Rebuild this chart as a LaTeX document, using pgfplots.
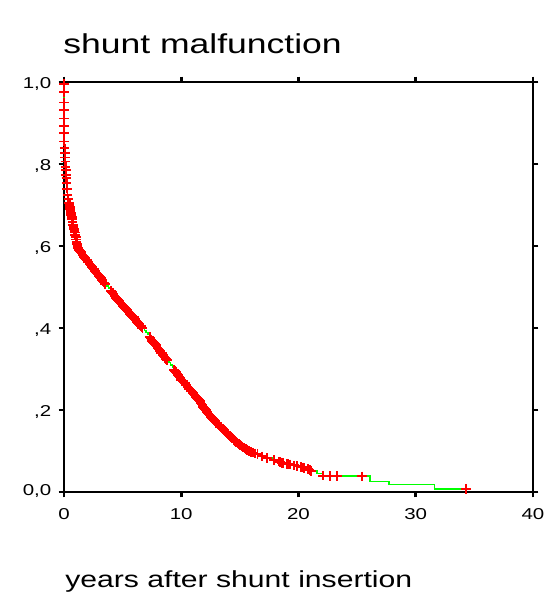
\documentclass[border=0pt]{standalone}
\usepackage{pgfplots}
\pgfplotsset{compat=1.18}
\usepackage{pgfplotstable}
\usepackage{fontspec}
\setmainfont{Liberation Sans}[FakeStretch=1.3]
\definecolor{kmred}{RGB}{255,0,0}
\definecolor{kmgreen}{RGB}{0,255,0}
\pgfplotstableread{
x y
0 0.995
0 0.976
0 0.950
0 0.932
0 0.911
0 0.893
0 0.875
0.02 0.855
0.05 0.838
0.08 0.826
0.10 0.816
0.12 0.806
0.14 0.793
0.16 0.785
0.18 0.773
0.20 0.765
0.22 0.753
0.26 0.740
0.30 0.724
0.45 0.705
0.50 0.695
0.55 0.685
0.62 0.675
0.70 0.665
0.78 0.652
0.85 0.642
0.92 0.633
1.00 0.622
1.08 0.610
1.15 0.600
1.25 0.593
1.35 0.588
1.50 0.582
1.65 0.576
1.80 0.570
1.95 0.565
2.10 0.560
2.25 0.554
2.40 0.548
2.55 0.543
2.70 0.537
2.85 0.532
3.00 0.527
3.15 0.521
3.30 0.515
3.50 0.508
4.00 0.490
4.15 0.485
4.30 0.479
4.45 0.474
4.60 0.468
4.75 0.463
4.90 0.458
5.05 0.453
5.20 0.448
5.35 0.444
5.50 0.439
5.65 0.434
5.80 0.430
5.95 0.426
6.10 0.420
6.25 0.415
6.40 0.409
6.55 0.404
6.70 0.399
7.30 0.378
7.45 0.372
7.60 0.366
7.75 0.361
7.90 0.355
8.05 0.349
8.20 0.343
8.35 0.338
8.50 0.332
8.65 0.327
8.80 0.322
9.40 0.298
9.55 0.292
9.70 0.286
9.85 0.280
10.00 0.274
10.15 0.270
10.30 0.265
10.45 0.260
10.60 0.255
10.75 0.250
10.90 0.245
11.05 0.240
11.20 0.234
11.35 0.229
11.50 0.224
11.65 0.218
11.80 0.212
11.95 0.205
12.10 0.199
12.25 0.193
12.40 0.188
12.55 0.183
12.70 0.178
12.85 0.173
13.00 0.168
13.20 0.163
13.40 0.158
13.60 0.152
13.80 0.147
14.00 0.141
14.20 0.135
14.40 0.130
14.60 0.125
14.80 0.120
15.00 0.115
15.20 0.111
15.40 0.107
15.60 0.103
15.80 0.100
16.10 0.096
16.50 0.092
16.90 0.087
17.30 0.083
17.90 0.078
18.30 0.074
18.50 0.072
18.70 0.071
19.00 0.069
19.30 0.067
19.60 0.065
19.90 0.063
20.20 0.061
20.50 0.059
20.80 0.056
21.10 0.051
22.10 0.040
22.70 0.039
23.30 0.039
25.40 0.038
34.30 0.008
}\censored
\pgfplotstableread{
x y
0.375 0.715
0.475 0.700
0.525 0.690
0.585 0.680
0.660 0.670
0.740 0.658
0.815 0.647
0.885 0.637
0.960 0.627
1.040 0.616
1.115 0.605
1.200 0.596
1.300 0.590
1.430 0.585
1.580 0.579
1.730 0.573
1.880 0.567
2.030 0.562
2.180 0.557
2.330 0.551
2.480 0.545
2.630 0.540
2.780 0.534
2.930 0.529
3.080 0.524
3.230 0.518
3.400 0.511
4.080 0.487
4.230 0.482
4.380 0.476
4.530 0.471
4.680 0.465
4.830 0.460
4.980 0.455
5.130 0.450
5.280 0.446
5.430 0.441
5.580 0.436
5.730 0.432
5.880 0.428
6.030 0.423
6.180 0.417
6.330 0.412
6.480 0.406
6.620 0.401
7.380 0.375
7.530 0.369
7.680 0.363
7.830 0.358
7.980 0.352
8.130 0.346
8.280 0.340
8.430 0.335
8.580 0.329
8.720 0.324
9.480 0.295
9.630 0.289
9.780 0.283
9.930 0.277
10.080 0.272
10.230 0.267
10.380 0.262
10.530 0.257
10.680 0.252
10.830 0.247
10.980 0.242
11.130 0.237
11.280 0.231
11.430 0.226
11.580 0.221
11.730 0.215
11.880 0.208
12.030 0.202
12.180 0.196
12.330 0.190
12.480 0.185
12.630 0.180
12.780 0.175
12.930 0.170
13.100 0.165
13.300 0.160
13.500 0.155
13.700 0.149
13.900 0.144
14.100 0.138
14.300 0.132
14.500 0.127
14.700 0.122
14.900 0.117
15.100 0.113
15.300 0.109
15.500 0.105
15.700 0.101
15.950 0.098
16.300 0.094
18.400 0.073
18.600 0.071
19.150 0.068
20.350 0.060
20.950 0.054
}\censoredb
\pgfplotstableread{
x y
0 1.000
0 0.995
0 0.976
0 0.950
0 0.932
0 0.911
0 0.893
0 0.875
0.02 0.855
0.05 0.838
0.08 0.826
0.10 0.816
0.12 0.806
0.14 0.793
0.16 0.785
0.18 0.773
0.20 0.765
0.22 0.753
0.26 0.740
0.30 0.724
0.37 0.715
0.45 0.705
0.50 0.695
0.55 0.685
0.62 0.675
0.70 0.665
0.78 0.652
0.85 0.642
0.92 0.633
1.00 0.622
1.08 0.610
1.15 0.600
1.25 0.593
1.35 0.588
1.50 0.582
1.65 0.576
1.80 0.570
1.95 0.565
2.10 0.560
2.25 0.554
2.40 0.548
2.55 0.543
2.70 0.537
2.85 0.532
3.00 0.527
3.15 0.521
3.30 0.515
3.50 0.508
3.65 0.503
3.80 0.497
4.00 0.490
4.15 0.485
4.30 0.479
4.45 0.474
4.60 0.468
4.75 0.463
4.90 0.458
5.05 0.453
5.20 0.448
5.35 0.444
5.50 0.439
5.65 0.434
5.80 0.430
5.95 0.426
6.10 0.420
6.25 0.415
6.40 0.409
6.55 0.404
6.70 0.399
6.85 0.394
7.00 0.389
7.15 0.384
7.30 0.378
7.45 0.372
7.60 0.366
7.75 0.361
7.90 0.355
8.05 0.349
8.20 0.343
8.35 0.338
8.50 0.332
8.65 0.327
8.80 0.322
8.95 0.316
9.10 0.310
9.25 0.304
9.40 0.298
9.55 0.292
9.70 0.286
9.85 0.280
10.00 0.274
10.15 0.270
10.30 0.265
10.45 0.260
10.60 0.255
10.75 0.250
10.90 0.245
11.05 0.240
11.20 0.234
11.35 0.229
11.50 0.224
11.65 0.218
11.80 0.212
11.95 0.205
12.10 0.199
12.25 0.193
12.40 0.188
12.55 0.183
12.70 0.178
12.85 0.173
13.00 0.168
13.20 0.163
13.40 0.158
13.60 0.152
13.80 0.147
14.00 0.141
14.20 0.135
14.40 0.130
14.60 0.125
14.80 0.120
15.00 0.115
15.20 0.111
15.40 0.107
15.60 0.103
15.80 0.100
16.10 0.096
16.50 0.092
16.90 0.087
17.30 0.083
17.90 0.078
18.30 0.074
18.50 0.072
18.70 0.071
19.00 0.069
19.30 0.067
19.60 0.065
19.90 0.063
20.20 0.061
20.50 0.059
20.80 0.056
21.10 0.051
21.60 0.045
22.10 0.039
26.10 0.026
27.70 0.018
31.60 0.008
34.30 0.008
}\kmline
\begin{document}
\begin{tikzpicture}
\begin{axis}[
  name=ax,
  at={(0,0)}, anchor=south west,
  scale only axis,
  width=351.75pt, height=307.5pt,
  xmin=0, xmax=40, ymin=0, ymax=1,
  xtick={0,10,20,30,40},
  xticklabels={0,10,20,30,40},
  ytick={0,0.2,0.4,0.6,0.8,1},
  yticklabels={{\raisebox{6pt}{0,0}},{,2},{,4},{,6},{,8},{1,0}},
  tick align=outside,
  major tick length=4pt,
  tick style={black, line width=2pt},
  axis line style={black, line width=1.3pt},
  ticklabel style={font=\fontsize{11.8pt}{13pt}\selectfont},
  xticklabel style={yshift=-5pt},
  yticklabel style={xshift=-2pt, yshift=-1.5pt},
  clip=false,
]
\addplot[const plot, draw=kmgreen, line width=1.2pt, mark=none, forget plot] table {\kmline};
\addplot[only marks, draw=kmred, mark=+, mark size=3.6pt, mark options={draw=kmred, line width=1.4pt}] table {\censored};
\addplot[only marks, draw=kmred, mark=+, mark size=3.6pt, mark options={draw=kmred, line width=1.4pt}] table {\censoredb};
\end{axis}
\node[anchor=base west, inner sep=0pt, font=\fontsize{20.5pt}{24pt}\selectfont] at (-0.75pt,329pt) {shunt malfunction};
\node[anchor=base west, inner sep=0pt, font=\fontsize{17.4pt}{20pt}\selectfont] at (0.75pt,-71.25pt) {years after shunt insertion};
\pgfresetboundingbox
\path[use as bounding box] (-48pt,-80.25pt) rectangle (364.5pt,369pt);
\end{tikzpicture}
\end{document}
